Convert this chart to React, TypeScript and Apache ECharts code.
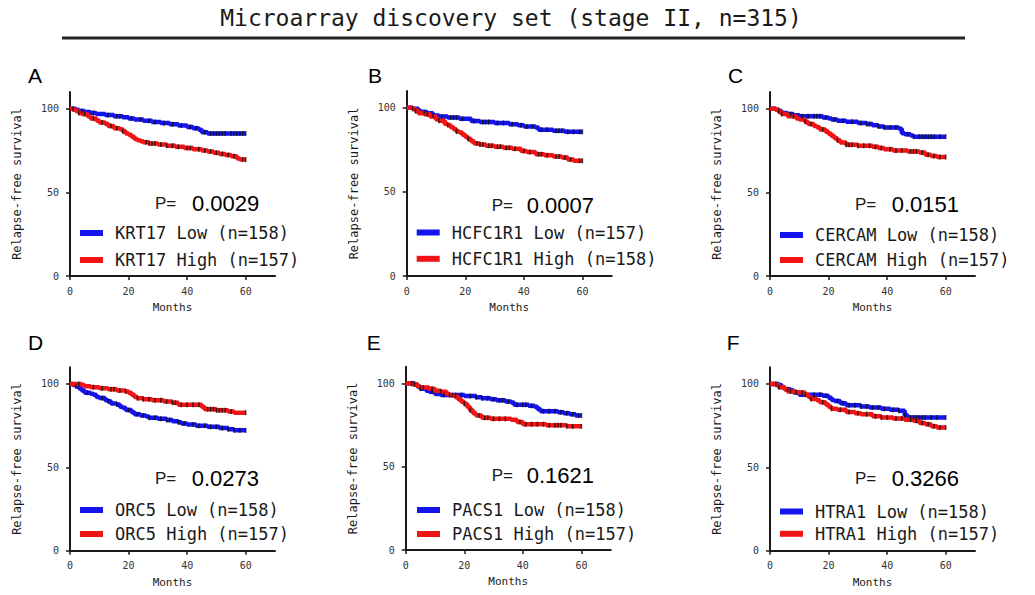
import React, { useEffect, useRef } from "react";
import * as echarts from "echarts";

const titleText = "Microarray discovery set (stage II, n=315)";
const panelLetters = ["A", "B", "C", "D", "E", "F"];
const genes = ["KRT17", "HCFC1R1", "CERCAM", "ORC5", "PACS1", "HTRA1"];
const pValues = ["0.0029", "0.0007", "0.0151", "0.0273", "0.1621", "0.3266"];
const lowN = [158, 157, 158, 158, 158, 158];
const highN = [157, 158, 157, 157, 157, 157];
const xTicks = [0, 20, 40, 60];
const yTicks = [0, 50, 100];

// Kaplan-Meier curves: [month, relapse-free survival %]
const krt17Low = [[0,100],[2,99.4],[3,98.7],[5,98.1],[7,97.5],[9,96.8],[12,96.2],[15,95.5],[18,94.9],[20,94.2],[22,93.5],[25,92.8],[28,92.1],[31,91.4],[34,90.7],[37,89.9],[40,89.1],[42,88.3],[44,87.5],[45,86.0],[47,85.2],[60,85.2]];
const krt17High = [[0,100],[1,99.4],[2,98.7],[3,97.4],[4,96.8],[6,95.5],[7,94.2],[9,93.0],[10,91.7],[12,91.0],[13,89.7],[15,88.4],[17,87.8],[18,86.5],[19,85.2],[20,84.5],[21,83.2],[22,81.9],[23,81.2],[24,80.6],[25,79.9],[27,79.2],[30,78.6],[33,77.9],[36,77.2],[39,76.5],[42,75.8],[45,75.1],[47,74.4],[49,73.7],[51,73.0],[53,72.3],[55,71.6],[57,70.3],[58,69.6],[60,69.6]];
const hcfc1r1Low = [[0,100],[2,99.4],[4,98.1],[5,97.5],[7,96.8],[9,95.5],[11,94.8],[14,94.2],[18,93.5],[22,92.2],[25,91.6],[30,91.0],[35,90.3],[38,89.6],[40,88.9],[44,88.3],[45,87.0],[50,86.4],[54,85.7],[60,85.7]];
const hcfc1r1High = [[0,100],[2,99.4],[3,98.1],[4,96.8],[6,96.2],[8,94.9],[10,93.0],[11,92.3],[13,90.4],[14,89.8],[15,88.5],[16,87.2],[17,85.9],[18,85.3],[19,84.0],[20,82.7],[21,81.4],[22,80.1],[23,78.8],[25,78.2],[27,77.5],[30,76.9],[33,76.2],[36,75.6],[39,74.3],[41,73.7],[44,72.4],[47,71.8],[50,71.1],[53,70.5],[55,69.2],[57,68.5],[60,68.5]];
const cercamLow = [[0,100],[2,99.4],[3,98.7],[4,97.4],[6,96.8],[8,96.1],[10,95.5],[18,94.8],[20,94.2],[21,93.5],[23,92.8],[26,92.2],[30,91.5],[33,90.8],[35,90.1],[37,89.4],[39,88.8],[44,88.1],[45,85.4],[46,84.7],[48,84.0],[49,83.3],[60,83.3]];
const cercamHigh = [[0,100],[2,99.4],[3,98.1],[4,96.8],[6,95.5],[9,94.2],[10,93.5],[12,92.2],[13,90.9],[15,89.6],[16,88.9],[17,87.6],[19,86.3],[20,85.0],[21,83.7],[22,82.4],[23,81.1],[24,79.8],[26,78.5],[30,77.9],[35,77.2],[37,76.5],[39,75.8],[42,75.1],[47,74.5],[51,73.8],[53,72.5],[55,71.8],[57,71.1],[60,71.1]];
const orc5Low = [[0,100],[1,99.4],[2,98.7],[3,97.4],[4,96.1],[5,94.8],[7,94.2],[8,93.5],[9,92.2],[10,91.6],[12,90.3],[13,89.6],[14,88.3],[16,87.7],[17,86.4],[18,85.7],[19,84.4],[21,83.1],[22,81.8],[24,81.1],[26,80.5],[27,79.8],[30,79.1],[33,78.4],[35,77.7],[37,77.0],[38,76.3],[40,75.7],[43,75.0],[47,74.3],[51,73.6],[54,72.9],[56,72.2],[60,72.2]];
const orc5High = [[0,100],[4,99.4],[5,98.7],[7,98.1],[10,97.4],[13,96.8],[16,96.1],[19,95.5],[20,94.8],[21,93.5],[22,92.2],[23,91.5],[25,90.9],[28,90.2],[32,89.5],[35,88.8],[37,87.5],[45,86.2],[46,84.9],[50,84.2],[54,83.5],[56,82.8],[60,82.8]];
const pacs1Low = [[0,100],[3,99.4],[4,98.1],[5,96.8],[7,95.5],[8,94.9],[10,93.6],[12,93.0],[20,92.4],[24,91.7],[26,91.1],[29,90.4],[31,89.8],[34,89.1],[36,88.5],[37,87.2],[42,86.5],[44,85.9],[45,84.6],[46,83.3],[52,82.7],[54,82.0],[56,81.4],[58,80.7],[60,80.7]];
const pacs1High = [[0,100],[2,99.4],[4,98.1],[5,97.5],[8,96.8],[10,95.6],[12,94.9],[14,93.6],[15,92.9],[17,91.6],[18,90.3],[19,89.0],[20,87.7],[21,85.8],[22,83.9],[23,82.0],[24,80.7],[26,79.4],[29,78.7],[36,78.1],[38,76.8],[40,75.5],[48,74.9],[55,74.2],[60,74.2]];
const htra1Low = [[0,100],[3,99.4],[4,98.1],[5,96.8],[7,96.2],[8,94.9],[10,93.6],[18,93.0],[20,91.7],[21,90.4],[22,89.8],[24,88.5],[26,87.2],[31,86.5],[34,85.9],[38,85.2],[41,84.6],[44,83.9],[46,81.2],[47,79.9],[60,79.9]];
const htra1High = [[0,100],[2,99.4],[3,98.1],[5,96.8],[6,95.5],[9,94.9],[12,93.6],[13,92.3],[14,91.0],[16,90.3],[17,89.0],[19,87.7],[20,86.4],[21,85.1],[23,84.5],[26,83.2],[29,82.5],[31,81.9],[35,80.6],[38,79.9],[42,79.3],[46,78.6],[49,77.9],[51,76.6],[53,75.9],[55,74.6],[57,73.9],[60,73.9]];

// censored observation times (months)
const krt17LowCens = [1,4,8,13,16,17,21,24,27,29,32,35,38,41,43,46,48,49,50,51,52,53,55,56,57,58,59,60];
const krt17HighCens = [3,5,8,11,14,16,18,26,27,28,29,31,33,35,37,40,41,44,46,48,50,52,54,56,59,60];
const hcfc1r1LowCens = [2,6,9,12,15,16,17,19,23,26,27,28,31,33,36,39,41,43,46,48,51,52,53,55,57,59,60];
const hcfc1r1HighCens = [3,7,11,14,17,21,24,25,26,28,29,31,32,34,35,37,40,42,45,46,48,51,52,54,56,59,60];
const cercamLowCens = [3,7,11,13,15,16,17,19,22,25,28,31,33,34,37,39,41,43,47,49,51,52,53,54,55,56,58,60];
const cercamHighCens = [4,8,12,14,18,23,26,27,28,30,32,34,36,38,41,43,45,48,49,50,52,54,56,58,60];
const orc5LowCens = [2,6,11,13,16,20,23,25,27,29,31,33,34,37,39,42,44,46,48,50,52,54,56,58,60];
const orc5HighCens = [3,8,11,14,15,17,19,23,25,27,29,31,33,35,36,38,40,42,44,47,48,49,50,51,52,53,55,60];
const pacs1LowCens = [2,5,9,13,15,17,19,22,24,26,28,30,32,33,35,38,40,41,43,47,49,51,53,55,57,59,60];
const pacs1HighCens = [3,6,9,12,16,20,22,25,27,28,30,32,34,39,41,43,45,47,49,51,52,53,55,57,60];
const htra1LowCens = [2,6,9,12,15,17,19,23,25,27,29,31,33,35,37,39,42,44,46,48,49,50,51,52,53,55,57,60];
const htra1HighCens = [3,7,11,14,18,21,24,27,30,33,36,38,40,43,45,48,50,52,54,56,58,60];

const lowCurves = [krt17Low, hcfc1r1Low, cercamLow, orc5Low, pacs1Low, htra1Low];
const highCurves = [krt17High, hcfc1r1High, cercamHigh, orc5High, pacs1High, htra1High];
const lowCens = [krt17LowCens, hcfc1r1LowCens, cercamLowCens, orc5LowCens, pacs1LowCens, htra1LowCens];
const highCens = [krt17HighCens, hcfc1r1HighCens, cercamHighCens, orc5HighCens, pacs1HighCens, htra1HighCens];

const BLUE = "#1414ee";
const RED = "#f21414";
const INK = "#1a1a1a";
const MONO = "'DejaVu Sans Mono', monospace";
const SANS = "'Liberation Sans', Arial, sans-serif";

const layout = [
  { left: 70, top: 92, width: 205, height: 184, lx: 28, ly: 75, px: 155, dx: 192, py: 203, legL: 80, legT: 224.5, legG: 10 },
  { left: 406.7, top: 91, width: 205, height: 185, lx: 368, ly: 75, px: 491.7, dx: 526.7, py: 205, legL: 416.7, legT: 224, legG: 9.3 },
  { left: 770, top: 92, width: 205, height: 184, lx: 728, ly: 75, px: 855, dx: 891.7, py: 204, legL: 780, legT: 226.5, legG: 8 },
  { left: 70, top: 367.3, width: 205, height: 183.4, lx: 28, ly: 342, px: 155, dx: 191.7, py: 478.3, legL: 80, legT: 501.5, legG: 7 },
  { left: 405.7, top: 366.7, width: 205, height: 183.3, lx: 366.7, ly: 342, px: 491.7, dx: 526.7, py: 475, legL: 417, legT: 501.5, legG: 7 },
  { left: 770, top: 367.3, width: 205, height: 183.4, lx: 726.7, ly: 342, px: 855, dx: 891.7, py: 478, legL: 780, legT: 503, legG: 5.3 },
];

function survAt(curve: number[][], t: number): number {
  let v = curve[0][1];
  for (const p of curve) {
    if (p[0] <= t) v = p[1];
    else break;
  }
  return v;
}

function buildOption() {
  const grid: any[] = [];
  const xAxis: any[] = [];
  const yAxis: any[] = [];
  const series: any[] = [];
  const legend: any[] = [];
  const graphic: any[] = [];

  graphic.push({
    type: "text",
    x: 511,
    y: 18,
    style: { text: titleText, font: `23px ${MONO}`, fill: INK, align: "center", verticalAlign: "middle" },
  });
  graphic.push({
    type: "line",
    shape: { x1: 62, y1: 38, x2: 965, y2: 38 },
    style: { stroke: "#222", lineWidth: 3 },
  });

  layout.forEach((L, i) => {
    grid.push({ left: L.left, top: L.top, width: L.width, height: L.height, containLabel: false });
    xAxis.push({
      type: "value",
      gridIndex: i,
      min: 0,
      max: 70,
      interval: 10,
      name: "Months",
      nameLocation: "middle",
      nameGap: 26,
      nameTextStyle: { fontFamily: MONO, fontSize: 11, color: INK },
      axisLine: { show: true, onZero: false, lineStyle: { color: INK, width: 2 } },
      axisTick: { show: true, length: 4, inside: false, customValues: xTicks, lineStyle: { color: INK, width: 1.5 } },
      axisLabel: { show: true, margin: 10, customValues: xTicks, fontFamily: MONO, fontSize: 10, color: "#333" },
      splitLine: { show: false },
    });
    yAxis.push({
      type: "value",
      gridIndex: i,
      min: 0,
      max: 110,
      interval: 50,
      name: "Relapse-free survival",
      nameLocation: "middle",
      nameGap: 47,
      nameTextStyle: { fontFamily: MONO, fontSize: 12, color: INK },
      axisLine: { show: true, onZero: false, lineStyle: { color: INK, width: 2 } },
      axisTick: { show: true, length: 4, inside: false, customValues: yTicks, lineStyle: { color: INK, width: 1.5 } },
      axisLabel: { show: true, margin: 11, customValues: yTicks, fontFamily: MONO, fontSize: 10, color: "#333" },
      splitLine: { show: false },
    });

    const lowName = `${genes[i]} Low (n=${lowN[i]})`;
    const highName = `${genes[i]} High (n=${highN[i]})`;

    series.push({
      type: "line",
      name: lowName,
      xAxisIndex: i,
      yAxisIndex: i,
      data: lowCurves[i],
      step: "end",
      symbol: "none",
      showSymbol: false,
      lineStyle: { color: BLUE, width: 4.5 },
      itemStyle: { color: BLUE },
      z: 2,
      silent: true,
    });
    series.push({
      type: "line",
      name: highName,
      xAxisIndex: i,
      yAxisIndex: i,
      data: highCurves[i],
      step: "end",
      symbol: "none",
      showSymbol: false,
      lineStyle: { color: RED, width: 4.5 },
      itemStyle: { color: RED },
      z: 2,
      silent: true,
    });
    series.push({
      type: "scatter",
      xAxisIndex: i,
      yAxisIndex: i,
      data: lowCens[i].map((t) => [t, survAt(lowCurves[i], t)]),
      symbol: "rect",
      symbolSize: [1.5, 5],
      itemStyle: { color: "#111" },
      z: 3,
      silent: true,
    });
    series.push({
      type: "scatter",
      xAxisIndex: i,
      yAxisIndex: i,
      data: highCens[i].map((t) => [t, survAt(highCurves[i], t)]),
      symbol: "rect",
      symbolSize: [1.5, 5],
      itemStyle: { color: "#111" },
      z: 3,
      silent: true,
    });

    legend.push({
      data: [lowName, highName],
      orient: "vertical",
      left: L.legL,
      top: L.legT,
      itemGap: L.legG,
      itemWidth: 23,
      itemHeight: 6,
      icon: "rect",
      selectedMode: false,
      padding: 0,
      textStyle: { fontFamily: MONO, fontSize: 17, color: INK, padding: [0, 0, 0, 7] },
    });

    graphic.push({
      type: "text",
      x: L.lx,
      y: L.ly,
      style: { text: panelLetters[i], font: `21px ${SANS}`, fill: "#000", align: "left", verticalAlign: "middle" },
    });
    graphic.push({
      type: "text",
      x: L.px,
      y: L.py,
      style: { text: "P=", font: `17px ${SANS}`, fill: INK, align: "left", verticalAlign: "middle" },
    });
    graphic.push({
      type: "text",
      x: L.dx,
      y: L.py,
      style: { text: pValues[i], font: `22px ${SANS}`, fill: "#000", align: "left", verticalAlign: "middle" },
    });
  });

  return {
    animation: false,
    backgroundColor: "#ffffff",
    grid,
    xAxis,
    yAxis,
    series,
    legend,
    graphic,
  };
}

export default function App() {
  const ref = useRef<HTMLDivElement>(null);
  useEffect(() => {
    if (!ref.current) return;
    const chart = echarts.init(ref.current, undefined, { renderer: "svg" });
    chart.setOption(buildOption() as any);
    return () => chart.dispose();
  }, []);
  return (
    <div
      ref={ref}
      style={{ position: "absolute", left: 0, top: 0, width: 1035, height: 595, background: "#fff" }}
    />
  );
}
